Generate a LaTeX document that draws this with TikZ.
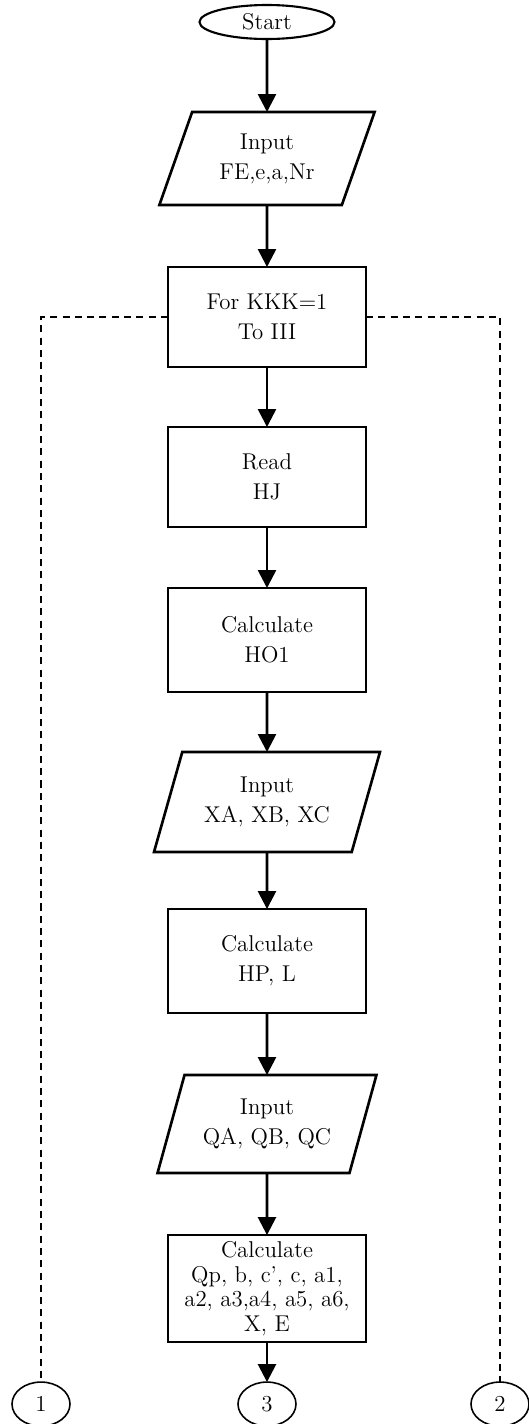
\documentclass[tikz,border=0pt]{standalone}
\usepackage{tikz}
\usetikzlibrary{positioning}
\usetikzlibrary{shapes.geometric}
\usetikzlibrary{arrows.meta}

\tikzset{
	box/.style={draw, line width=1.5pt, outer sep=0pt, minimum width=3.96cm, minimum height=2cm, align=center, inner sep=1pt},
	io/.style={draw, line width=1.5pt, outer sep=0pt, trapezium, trapezium left angle=68, trapezium right angle=112, trapezium stretches=true, align=center, inner sep=1pt},
	term/.style={draw, ellipse, line width=1.2pt, outer sep=0pt, minimum width=2.7cm, minimum height=0.68cm, inner sep=0pt},
	conn/.style={draw, ellipse, line width=0.9pt, outer sep=0pt, minimum width=1.16cm, minimum height=0.88cm, inner sep=0pt},
	flow/.style={line width=1.5pt, -{Triangle[length=3.6mm,width=3.6mm]}},
	loopline/.style={line width=0.8pt, dash pattern=on 4pt off 3pt}
}

\begin{document}
\begin{tikzpicture}[font=\fontsize{13}{17}\selectfont]
	\useasboundingbox (0,0) rectangle (10.56,-28.48);
	\node [term] at (5.34,-0.44) (START) {Start};
	\node [io, minimum width=4.34cm, minimum height=1.86cm, below=1.46cm of START] (INFE) {Input\\FE,e,a,Nr};
	\node [box, below=1.24cm of INFE] (FOR) {For KKK=1\\To III};
	\node [box, below=1.2cm of FOR] (READ) {Read\\HJ};
	\node [box, minimum height=2.08cm, below=1.22cm of READ] (HO) {Calculate\\HO1};
	\node [io, minimum width=4.56cm, minimum height=2cm, below=1.2cm of HO] (INX) {Input\\XA, XB, XC};
	\node [box, minimum height=2.08cm, below=1.14cm of INX] (HP) {Calculate\\HP, L};
	\node [io, minimum width=4.4cm, minimum height=1.96cm, below=1.24cm of HP] (INQ) {Input\\QA, QB, QC};
	\node [box, minimum height=2.14cm, font=\fontsize{13}{14}\selectfont, below=1.24cm of INQ] (QP) {Calculate\\Qp, b, c', c, a1,\\a2, a3,a4, a5, a6,\\X, E};
	\node [conn, below=0.8cm of QP] (C3) {3};
	\node [conn, left=3.36cm of C3] (C1) {1};
	\node [conn, right=3.5cm of C3] (C2) {2};
	\draw [flow] (START) -- (INFE);
	\draw [flow] (INFE) -- (FOR);
	\draw [flow] (FOR) -- (READ);
	\draw [flow] (READ) -- (HO);
	\draw [flow] (HO) -- (INX);
	\draw [flow] (INX) -- (HP);
	\draw [flow] (HP) -- (INQ);
	\draw [flow] (INQ) -- (QP);
	\draw [flow] (QP) -- (C3);
	\draw [loopline] (FOR.west) -| (C1.north);
	\draw [loopline] (FOR.east) -| (C2.north);
\end{tikzpicture}
\end{document}
